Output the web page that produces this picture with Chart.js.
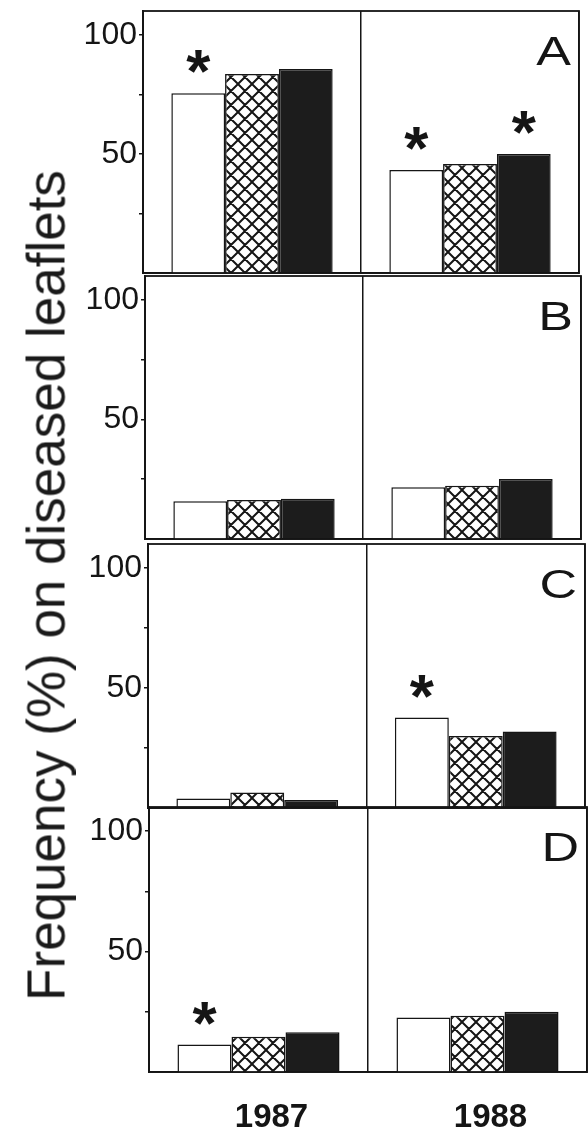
<!DOCTYPE html>
<html>
<head>
<meta charset="utf-8">
<script src="https://cdn.jsdelivr.net/npm/chart.js@4.4.0/dist/chart.umd.min.js"></script>
<style>
  html, body { margin: 0; padding: 0; background: #fff; }
  #wrap { position: relative; width: 588px; height: 1129px; overflow: hidden; }
  #wrap canvas { position: absolute; left: 0; top: 0; }
  #ytitle {
    position: absolute; left: -408px; top: 559px; width: 900px; height: 53px;
    line-height: 53px; font: 53px "Liberation Sans", Arial, sans-serif; color: #1a1a1a;
    text-align: center; white-space: nowrap; transform: rotate(-90deg);
  }
</style>
</head>
<body>
<div id="wrap">
  <canvas id="pA" width="588" height="1129"></canvas>
  <canvas id="pB" width="588" height="1129"></canvas>
  <canvas id="pC" width="588" height="1129"></canvas>
  <canvas id="pD" width="588" height="1129"></canvas>
  <div id="ytitle">Frequency (%) on diseased leaflets</div>
</div>
<script>
// values, one entry per panel: [1987, 1988]
const years = ['1987', '1988'];
const panelLetters = ['A', 'B', 'C', 'D'];
const openBars = [[75.5, 43.2], [15.8, 21.6], [4, 37.7], [11.4, 22.6]];
const hatchBars = [[83.5, 45.8], [16.3, 22.3], [6.5, 30], [14.6, 23.3]];
const solidBars = [[85.6, 50], [16.8, 25.1], [3.3, 31.9], [16.5, 25]];
// significant differences: [series, year]
const stars = [[[0, 0], [0, 1], [2, 1]], [], [[0, 1]], [[0, 0]]];
const yTickValues = [25, 50, 75, 100];
const yTickLabels = ['', '50', '', '100'];

// plot area of each panel on the page
const frames = [
    {left: 143, right: 579, top: 11, bottom: 273},
    {left: 145, right: 581, top: 276, bottom: 539},
    {left: 148, right: 585, top: 544, bottom: 808},
    {left: 149, right: 587, top: 807, bottom: 1072}
];
const ink = '#151515';
const font = '"Liberation Sans", Arial, sans-serif';

const makeHatch = function() {
    const p = 14;
    const c = document.createElement('canvas');
    c.width = c.height = p;
    const g = c.getContext('2d');
    g.fillStyle = '#fff';
    g.fillRect(0, 0, p, p);
    g.strokeStyle = ink;
    g.lineWidth = 2;
    g.beginPath();
    for (const o of [-p, 0, p]) {
        g.moveTo(o, 0); g.lineTo(o + p, p);
        g.moveTo(o + p, 0); g.lineTo(o, p);
    }
    g.stroke();
    return g.createPattern(c, 'repeat');
};
const hatch = makeHatch();

// frame, panel letter and asterisks
const decor = {
    id: 'decor',
    afterDatasetsDraw(chart, args, opts) {
        const {ctx, chartArea: a} = chart;
        ctx.save();
        ctx.strokeStyle = ink;
        ctx.lineWidth = 1.8;
        ctx.strokeRect(a.left, a.top, a.right - a.left, a.bottom - a.top);

        ctx.fillStyle = ink;
        ctx.textAlign = 'right';
        ctx.textBaseline = 'alphabetic';
        ctx.font = '40px ' + font;
        ctx.save();
        ctx.translate(a.right - 8, a.top + 54);
        ctx.scale(1.3, 1);
        ctx.fillText(opts.letter, 0, 0);
        ctx.restore();

        ctx.textAlign = 'center';
        ctx.font = 'bold 62px ' + font;
        opts.stars.forEach(([s, i]) => {
            const bar = chart.getDatasetMeta(s).data[i];
            ctx.fillText('*', bar.x, bar.y - 1);
        });
        ctx.restore();
    }
};

const panelChart = function(idx) {
    const f = frames[idx];
    const last = idx === frames.length - 1;
    const xHeight = last ? 57 : 0;
    const barStyle = {borderColor: ink, borderWidth: 1.5, borderSkipped: 'bottom'};
    new Chart(document.getElementById('p' + panelLetters[idx]), {
        type: 'bar',
        data: {
            labels: years,
            datasets: [
                Object.assign({data: openBars[idx], backgroundColor: '#fff'}, barStyle),
                Object.assign({data: hatchBars[idx], backgroundColor: hatch}, barStyle),
                Object.assign({data: solidBars[idx], backgroundColor: '#1c1c1c'}, barStyle)
            ]
        },
        options: {
            responsive: false,
            animation: false,
            devicePixelRatio: 1,
            categoryPercentage: 0.74,
            barPercentage: 1,
            layout: {padding: {top: f.top, left: 0, right: 588 - f.right, bottom: 1129 - f.bottom - xHeight}},
            plugins: {
                legend: {display: false},
                tooltip: {enabled: false},
                decor: {letter: panelLetters[idx], stars: stars[idx]}
            },
            scales: {
                x: {
                    grid: {offset: true, color: ink, lineWidth: 1.5, tickLength: 0},
                    border: {display: true, color: ink, width: 1.8},
                    ticks: {
                        display: last,
                        color: ink,
                        padding: 26,
                        labelOffset: 13,
                        font: {family: font, size: 33, weight: 'bold'}
                    },
                    afterFit(s) {
                        s.height = xHeight;
                        s.paddingLeft = s.paddingRight = 0;
                    }
                },
                y: {
                    min: 0,
                    max: 110,
                    grid: {drawOnChartArea: false, color: ink, lineWidth: 1.5, tickLength: 4},
                    border: {display: true, color: ink, width: 1.8},
                    afterBuildTicks(s) {
                        s.ticks = yTickValues.map(v => ({value: v}));
                    },
                    ticks: {
                        color: ink,
                        padding: 2,
                        font: {family: font, size: 32},
                        callback: (v) => yTickLabels[yTickValues.indexOf(v)] ?? ''
                    },
                    afterFit(s) {
                        s.width = f.left;
                        s.paddingTop = s.paddingBottom = 0;
                    }
                }
            }
        },
        plugins: [decor]
    });
};

frames.forEach((f, i) => panelChart(i));
</script>
</body>
</html>
